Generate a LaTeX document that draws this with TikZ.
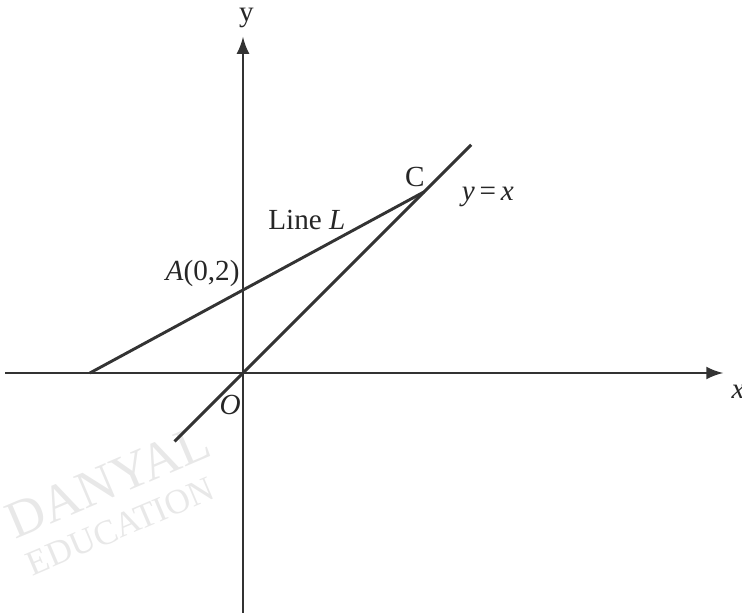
\documentclass[tikz,border=0pt]{standalone}
\usepackage{fontspec}
\setmainfont{Liberation Serif}
\usetikzlibrary{arrows}
\tikzstyle{axis} = [
    line width=1pt,
    draw=black!80,
    ->,
    >=latex
]
\tikzstyle{graphline} = [
    line width=1pt,
    draw=black!80
]
\tikzstyle{tag} = [
    inner sep=1pt,
    text=black!85,
    font=\fontsize{10}{12}\selectfont
]
\tikzstyle{watermark} = [
    inner sep=0pt,
    text=black!9,
    rotate=23
]

\begin{document}
\begin{tikzpicture}[x=0.5cm, y=0.5cm]

\clip (-5.855,-5.78) rectangle (12.024,8.988);

\coordinate (O) at (0,0);
\coordinate (xstart) at (-5.73,0);
\coordinate (xend) at (11.57,0);
\coordinate (ystart) at (0,-5.9);
\coordinate (yend) at (0,8.1);
\coordinate (A) at (0,2);
\coordinate (B) at (-3.69,0);
\coordinate (C) at (4.367,4.367);
\coordinate (diagstart) at (-1.65,-1.65);
\coordinate (diagend) at (5.5,5.5);

% faint watermark
\node (wmark) [watermark, font=\fontsize{18}{21}\selectfont] at (-3.25,-2.6) {DANYAL};
\node (wsub) [watermark, font=\fontsize{12}{14}\selectfont] at (-2.95,-3.7) {EDUCATION};

\draw [axis] (xstart) -- (xend);
\draw [axis] (ystart) -- (yend);
\draw [graphline] (B) -- (C);
\draw [graphline] (diagstart) -- (diagend);

\node (xlabel) [tag] at (11.93,-0.46) {\textit{x}};
\node (ylabel) [tag] at (0.08,8.55) {y};
\node (olabel) [tag] at (-0.31,-0.77) {\textit{O}};
\node (alabel) [tag, anchor=south east] at (A) {\textit{A}(0,2)};
\node (clabel) [tag] at (4.14,4.72) {C};
\node (lineL) [tag] at (1.54,3.69) {Line \textit{L}};
\node (yxlabel) [tag] at (5.9,4.24) {\textit{y}\,=\,\textit{x}};

\end{tikzpicture}
\end{document}
